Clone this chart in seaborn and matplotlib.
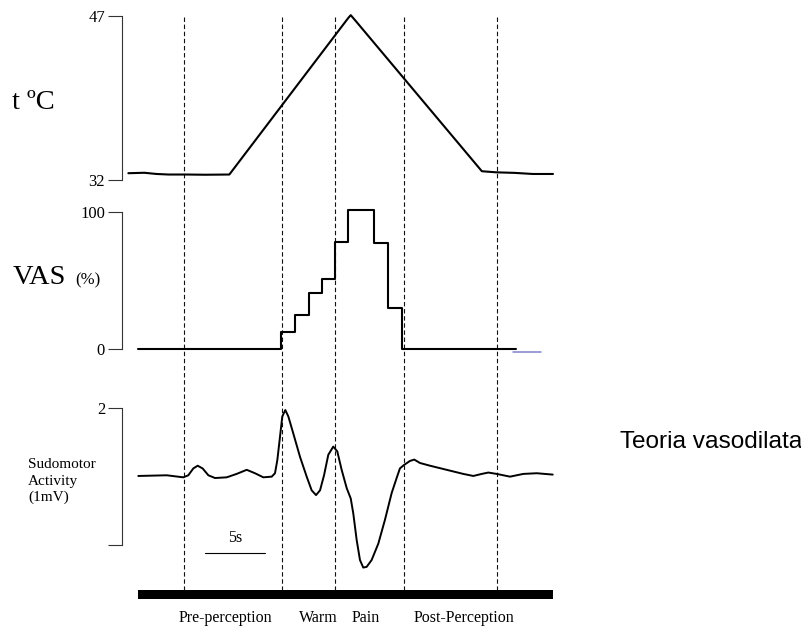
import numpy as np
import pandas as pd
import matplotlib
matplotlib.use("Agg")
import matplotlib.pyplot as plt
import seaborn as sns

# ---------------- data (time in seconds) ----------------
temp_t = [-0.82, 0.5, 1.5, 2.5, 4.0, 5.5, 7.5, 17.3, 17.5, 18.0, 28.3, 29.5, 31.0, 32.5, 34.16]
temp_c = [32.62, 32.66, 32.55, 32.5, 32.5, 32.48, 32.5, 46.8, 47.05, 46.4, 32.8, 32.7, 32.65, 32.55, 32.55]

vas_t = [0.0, 11.75, 12.93, 14.09, 15.16, 16.23, 17.3, 19.44, 20.6, 21.75, 31.1]
vas_v = [0, 12.6, 24.8, 41, 51.2, 78.2, 101.5, 77, 30.1, 0, 0]

marker_t = [30.9, 33.2]
marker_v = [-2.2, -2.2]

sudo_t = [0.0, 2.34, 3.71, 4.12, 4.53, 4.89, 5.30, 5.77, 6.32, 7.28, 8.1, 8.93, 9.61,
          10.3, 10.99, 11.26, 11.45, 11.67, 11.86, 12.11, 12.36, 12.77, 13.32, 13.87,
          14.28, 14.64, 14.97, 15.3, 15.65, 16.06, 16.39, 16.75, 17.17, 17.5, 17.71,
          17.99, 18.26, 18.53, 18.81, 19.22, 19.77, 20.32, 20.87, 21.28, 21.55, 21.88,
          22.38, 22.73, 23.2, 24.03, 25.4, 26.77, 27.6, 28.29, 28.83, 29.52, 30.62,
          31.71, 32.82, 34.14]
sudo_v = [1.01, 1.02, 0.99, 1.02, 1.12, 1.16, 1.12, 1.02, 0.98, 0.99, 1.04, 1.10, 1.05,
          0.99, 1.0, 1.05, 1.24, 1.58, 1.88, 1.975, 1.88, 1.63, 1.29, 1.0,
          0.80, 0.73, 0.80, 1.02, 1.32, 1.44, 1.37, 1.10, 0.83, 0.68, 0.46,
          0.07, -0.22, -0.33, -0.32, -0.22, 0.02, 0.37, 0.76, 0.98, 1.12, 1.17,
          1.23, 1.25, 1.20, 1.16, 1.10, 1.04, 1.01, 1.04, 1.06, 1.04, 1.0,
          1.04, 1.05, 1.03]

phase_bounds = [3.8, 11.85, 16.2, 21.9, 29.55]
phase_labels = ["Pre-perception", "Warm", "Pain", "Post-Perception"]
phase_label_t = [7.17, 14.87, 18.77, 26.8]
bar_t = [0.0, 34.16]
scalebar_t = [5.46, 10.46]
scalebar_v = [-0.12, -0.12]
scalebar_label = "5s"

temp_ticks, temp_ticklabels = [32, 47], ["32", "47"]
vas_ticks, vas_ticklabels = [0, 100], ["0", "100"]
sudo_ticks, sudo_ticklabels = [0, 2], ["", "2"]

# ---------------- layout ----------------
sns.set_theme(style="white")
plt.rcParams["font.family"] = ["Liberation Serif", "DejaVu Serif"]
plt.rcParams["text.color"] = "black"

W, H = 801, 630
fig = plt.figure(figsize=(W / 100, H / 100), dpi=100)
fig.patch.set_facecolor("white")

PX0, PX_PER_S = 138.3, 12.14
AX_L, AX_R = 121.7, 560.0
XLIM = ((AX_L - PX0) / PX_PER_S, (AX_R - PX0) / PX_PER_S)


def px_axes(ytop, ybot):
    return fig.add_axes([AX_L / W, 1 - ybot / H, (AX_R - AX_L) / W, (ybot - ytop) / H])


# overlay for dashed phase lines, black bar and phase labels (y in pixels from top)
ov = px_axes(0, H)
ov.set_xlim(*XLIM)
ov.set_ylim(H, 0)
ov.axis("off")
ov.patch.set_alpha(0)
ov.vlines(phase_bounds, 16.7, 590, colors="#111111", linestyles=(0, (4, 2.4)), lw=0.8)
ov.fill_between(bar_t, 590, 598.5, color="black", lw=0)
for lab, t in zip(phase_labels, phase_label_t):
    ov.text(t, 618, lab, ha="center", va="center", fontsize=11.5, color="black")

axc = "#333333"


def style_axis(ax, ylim, ticks, labels):
    ax.set_xlim(*XLIM)
    ax.set_ylim(*ylim)
    ax.patch.set_alpha(0)
    for s in ["top", "right", "bottom"]:
        ax.spines[s].set_visible(False)
    ax.spines["left"].set_color(axc)
    ax.spines["left"].set_linewidth(0.8)
    ax.set_xticks([])
    ax.set_yticks(ticks)
    ax.set_yticklabels(labels)
    ax.tick_params(axis="y", direction="out", length=10, width=0.8, color=axc,
                   pad=2, labelsize=12, labelcolor="black", left=True)
    ax.set_xlabel("")
    ax.set_ylabel("")


# temperature
ax1 = px_axes(15.7, 180)
sns.lineplot(x=temp_t, y=temp_c, ax=ax1, color="black", lw=1.5, estimator=None,
             sort=False, clip_on=False)
style_axis(ax1, (32, 47), temp_ticks, temp_ticklabels)

# VAS
ax2 = px_axes(211.7, 349)
sns.lineplot(x=vas_t, y=vas_v, ax=ax2, color="black", lw=1.5, estimator=None,
             sort=False, drawstyle="steps-post", clip_on=False)
sns.lineplot(x=marker_t, y=marker_v, ax=ax2, color="#8080cc", lw=1.1, estimator=None,
             sort=False, clip_on=False)
style_axis(ax2, (0, 100), vas_ticks, vas_ticklabels)

# Sudomotor
ax3 = px_axes(408.3, 545)
sns.lineplot(x=sudo_t, y=sudo_v, ax=ax3, color="black", lw=1.4, estimator=None,
             sort=False, clip_on=False)
ax3.plot(scalebar_t, scalebar_v, color="black", lw=0.8, clip_on=False)
ax3.text(np.mean(scalebar_t), 0.1, scalebar_label, ha="center", va="center",
         fontsize=11.5, color="black")
style_axis(ax3, (0, 2), sudo_ticks, sudo_ticklabels)

# side labels
fig.text(11.7 / W, 1 - 109 / H, "t ºC", fontsize=20.5, ha="left", va="baseline")
fig.text(13 / W, 1 - 284 / H, "VAS", fontsize=20.5, ha="left", va="baseline")
fig.text(75 / W, 1 - 284 / H, "(%)", fontsize=12, ha="left", va="baseline")
for y, line in zip([465, 481, 497], ["Sudomotor", "Activity", "(1mV)"]):
    fig.text(28 / W, 1 - y / H, line, fontsize=11, ha="left", va="center")
fig.text(619.5 / W, 1 - 447.7 / H, "Teoria vasodilata", fontsize=17.6, ha="left",
         va="baseline", family=["Liberation Sans", "DejaVu Sans"])

fig.savefig("out.png", dpi=100, facecolor="white")
